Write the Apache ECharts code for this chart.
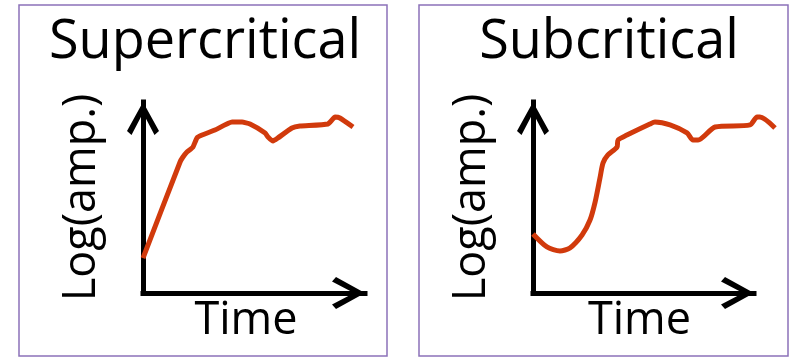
<!DOCTYPE html>
<html>
<head>
	<meta charset="utf-8"/>
	<title>Supercritical / Subcritical</title>
	<script src="https://cdn.jsdelivr.net/npm/echarts@6/dist/echarts.min.js"></script>
	<style>
		html, body { margin: 0; padding: 0; background: #fff; }
		#chart { width: 790px; height: 360px; }
	</style>
</head>
<body>
<div id="chart"></div>
<script>
    // 数据：x = 时间 (0..10), y = log 振幅 (0..10)
    var titles = ['Supercritical', 'Subcritical'];
    var superX = [0, 1.67, 1.80, 1.98, 2.25, 2.43, 2.66, 3.24, 4.01, 4.46, 4.82, 5.50, 5.63, 5.86, 6.08, 6.71, 7.07, 8.33, 8.65, 8.87, 9.46];
    var superY = [1.83, 6.86, 7.12, 7.38, 7.64, 8.12, 8.27, 8.53, 8.95, 8.95, 8.85, 8.38, 8.17, 7.96, 8.12, 8.64, 8.74, 8.85, 9.21, 9.16, 8.69];
    var subX = [0, 0.63, 1.22, 1.67, 2.22, 2.58, 2.81, 3.03, 3.17, 3.39, 3.80, 3.85, 4.25, 5.29, 5.52, 6.20, 6.97, 7.24, 7.47, 8.24, 9.82, 10.14, 10.27, 10.95];
    var subY = [3.09, 2.41, 2.20, 2.36, 3.04, 3.82, 4.76, 6.02, 6.81, 7.23, 7.64, 8.01, 8.27, 8.85, 8.95, 8.80, 8.38, 8.01, 8.01, 8.69, 8.80, 9.21, 9.21, 8.64];

    function pairs(xs, ys) {
        var out = [];
        for (var i = 0; i < xs.length; i++) out.push([xs[i], ys[i]]);
        return out;
    }

    var font = 'Open Sans';
    var red = '#d13a0c';
    // 空心箭头
    var chevron = 'path://M16 0 L32 29 L27.5 33 L16 11 L4.5 33 L0 29 Z';

    function axisLine() {
        return {
            show: true,
            symbol: ['none', chevron],
            symbolSize: [32, 33],
            symbolOffset: [0, -16.5],
            lineStyle: { color: '#000', width: 5, cap: 'square' }
        };
    }

    function xAxis(idx, shift) {
        return {
            type: 'value', gridIndex: idx, min: 0, max: 10,
            axisLine: axisLine(), axisTick: { show: false }, axisLabel: { show: false }, splitLine: { show: false },
            name: 'Time', nameLocation: 'middle', nameGap: 6,
            nameTextStyle: { fontFamily: font, fontSize: 45, color: '#000', padding: [0, shift, 0, 0] }
        };
    }

    function yAxis(idx) {
        return {
            type: 'value', gridIndex: idx, min: 0, max: 10,
            axisLine: axisLine(), axisTick: { show: false }, axisLabel: { show: false }, splitLine: { show: false },
            name: 'Log(amp.)', nameLocation: 'middle', nameRotate: 90, nameGap: 38,
            nameTextStyle: { fontFamily: font, fontSize: 45, color: '#000' }
        };
    }

    // 右图曲线超出箭头，放在一个不显示的坐标系里（同样比例，x 到 11）
    function hidden(idx, max) {
        return {
            type: 'value', gridIndex: idx, min: 0, max: max, show: false
        };
    }

    var chart = echarts.init(document.getElementById('chart'), null, { renderer: 'canvas' });
    var option = {
        backgroundColor: '#fff',
        animation: false,
        graphic: [
            { type: 'rect', shape: { x: 19, y: 5, width: 368, height: 351 }, style: { fill: 'none', stroke: '#8c72b9', lineWidth: 1.5 } },
            { type: 'rect', shape: { x: 419, y: 5, width: 369, height: 351 }, style: { fill: 'none', stroke: '#8c72b9', lineWidth: 1.5 } }
        ],
        title: [
            { text: titles[0], left: 200, top: 11, textAlign: 'center', textStyle: { fontFamily: font, fontSize: 54, fontWeight: 'normal', color: '#000' } },
            { text: titles[1], left: 604, top: 11, textAlign: 'center', textStyle: { fontFamily: font, fontSize: 54, fontWeight: 'normal', color: '#000' } }
        ],
        grid: [
            { left: 143, top: 102, width: 222, height: 191, outerBoundsMode: 'none', containLabel: false },
            { left: 533, top: 102, width: 221, height: 191, outerBoundsMode: 'none', containLabel: false },
            { left: 533, top: 102, width: 243.1, height: 191, outerBoundsMode: 'none', containLabel: false }
        ],
        xAxis: [xAxis(0, 16), xAxis(1, 8), hidden(2, 11)],
        yAxis: [yAxis(0), yAxis(1), hidden(2, 10)],
        series: [
            {
                type: 'line', xAxisIndex: 0, yAxisIndex: 0, data: pairs(superX, superY),
                showSymbol: false, smooth: 0.15, clip: false,
                lineStyle: { color: red, width: 5 }
            },
            {
                type: 'line', xAxisIndex: 2, yAxisIndex: 2, data: pairs(subX, subY),
                showSymbol: false, smooth: 0.25, clip: false,
                lineStyle: { color: red, width: 5 }
            }
        ]
    };
    chart.setOption(option);
</script>
</body>
</html>
